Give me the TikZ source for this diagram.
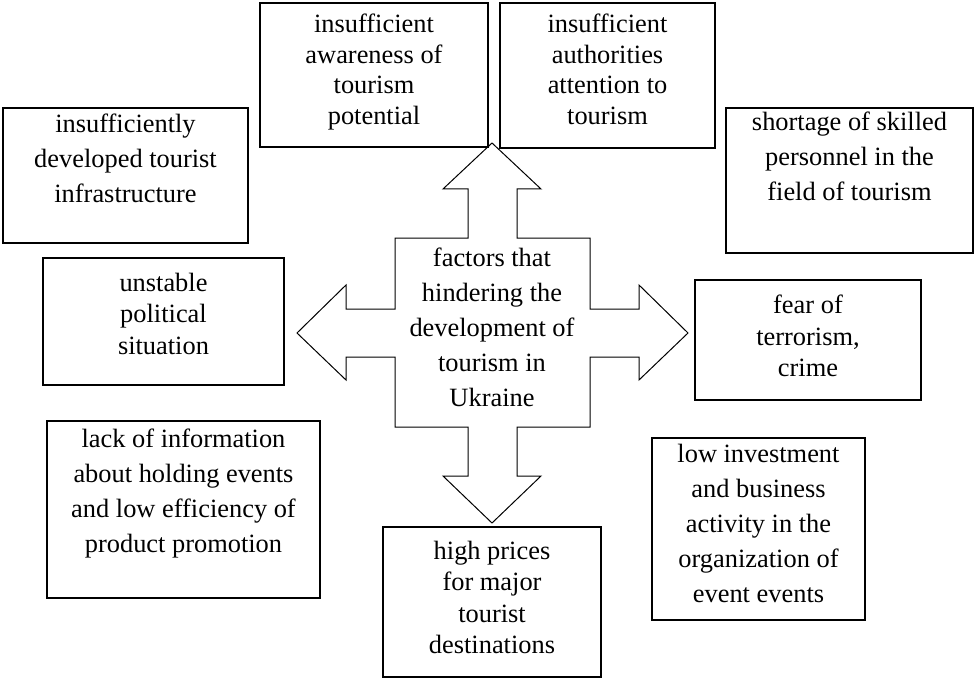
\documentclass[tikz,border=0pt]{standalone}
\usepackage{fontspec}
\setmainfont{Liberation Serif}
\usepackage{tikz}
\newcommand{\factorfont}{\fontsize{26.4}{35}\selectfont}
\newcommand{\tightfont}{\fontsize{26.4}{31.5}\selectfont}
\newcommand{\topfont}{\fontsize{26.4}{30.5}\selectfont}
\tikzstyle{factor} = [draw=black, line width=1.3pt, rectangle, inner sep=0pt]
\tikzstyle{hubtext} = [align=center, font=\factorfont, inner sep=0pt]
\tikzstyle{crossarrow} = [draw=black, line width=1pt, line join=miter, fill=white]

\begin{document}
\begin{tikzpicture}[x=1pt,y=-1pt]
\useasboundingbox (0,0) rectangle (974,679);

\draw [crossarrow] (492,143) -- (541,189) -- (517,189) -- (517,238) -- (590,238)
    -- (590,309) -- (639,309) -- (639,285) -- (688,333) -- (639,380) -- (639,357)
    -- (590,357) -- (590,427) -- (517,427) -- (517,476) -- (541,476) -- (492,523)
    -- (443,476) -- (468,476) -- (468,427) -- (395,427) -- (395,357) -- (346,357)
    -- (346,380) -- (297,333) -- (346,285) -- (346,309) -- (395,309) -- (395,238)
    -- (468,238) -- (468,189) -- (443,189) -- cycle;
\node [hubtext] (hub) at (492,327) {factors that\\ hindering the\\ development of\\ tourism in\\ Ukraine};

\node [factor] (aware) at (374,75) {
    \begin{minipage}[c][144pt][t]{228pt}
        \centering\topfont
        \vspace*{11pt}
        insufficient\\ awareness of\\ tourism\\ potential
    \end{minipage}
};
\node [factor] (authority) at (607.5,75.5) {
    \begin{minipage}[c][145pt][t]{215pt}
        \centering\topfont
        \vspace*{11pt}
        insufficient\\ authorities\\ attention to\\ tourism
    \end{minipage}
};
\node [factor] (infra) at (125.5,175.5) {
    \begin{minipage}[c][135pt][t]{245pt}
        \centering\factorfont
        \vspace*{6pt}
        insufficiently\\ developed tourist\\ infrastructure
    \end{minipage}
};
\node [factor] (politics) at (163.5,321.5) {
    \begin{minipage}[c][127pt][t]{241pt}
        \centering\tightfont
        \vspace*{15pt}
        unstable\\ political\\ situation
    \end{minipage}
};
\node [factor] (staff) at (849.5,180.5) {
    \begin{minipage}[c][145pt][t]{247pt}
        \centering\factorfont
        \vspace*{4pt}
        shortage of skilled\\ personnel in the\\ field of tourism
    \end{minipage}
};
\node [factor] (terror) at (808,340) {
    \begin{minipage}[c][120pt][t]{226pt}
        \centering\tightfont
        \vspace*{15pt}
        fear of\\ terrorism,\\ crime
    \end{minipage}
};
\node [factor] (promo) at (183.5,509.5) {
    \begin{minipage}[c][177pt][t]{273pt}
        \centering\factorfont
        \vspace*{8pt}
        lack of information\\ about holding events\\ and low efficiency of\\ product promotion
    \end{minipage}
};
\node [factor] (prices) at (492,602) {
    \begin{minipage}[c][150pt][t]{218pt}
        \centering\tightfont
        \vspace*{14pt}
        high prices\\ for major\\ tourist\\ destinations
    \end{minipage}
};
\node [factor] (invest) at (758.5,529) {
    \begin{minipage}[c][182pt][t]{213pt}
        \centering\factorfont
        \vspace*{6pt}
        low investment\\ and business\\ activity in the\\ organization of\\ event events
    \end{minipage}
};
\end{tikzpicture}
\end{document}
